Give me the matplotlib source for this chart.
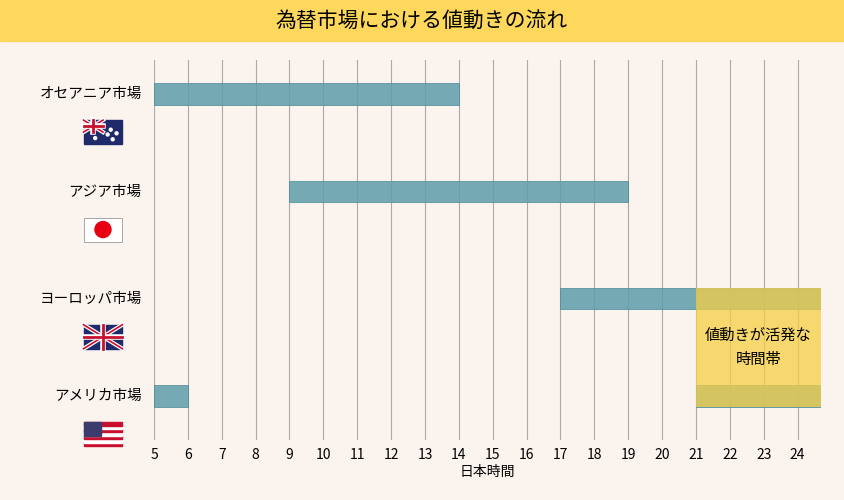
import numpy as np
import matplotlib.pyplot as plt
from matplotlib.patches import Rectangle, Ellipse

plt.rcParams["font.family"] = "Noto Sans CJK JP"

markets = ["オセアニア市場", "アジア市場", "ヨーロッパ市場", "アメリカ市場"]
# (start, end) hour segments per market
segments = [[(5, 14)], [(9, 19)], [(17, 24.7)], [(5, 6), (21, 24.7)]]
hours = list(range(5, 25))
active = (21, 24.7)

bg = "#FAF3EE"
fig = plt.figure(figsize=(8.44, 5.0), dpi=100, facecolor=bg)
# title band
fig.patches.append(Rectangle((0, 0.918), 1, 0.082, transform=fig.transFigure,
                             color="#FDD85D", zorder=0))
fig.text(0.5, 0.959, "為替市場における値動きの流れ", ha="center", va="center", fontsize=15)

ax = fig.add_axes([0.1825, 0.12, 0.7905, 0.76], facecolor=bg)
rows = [0, 1, 2, 3]
ypos = [3.1, 2.1, 1.0, 0.0]
bh = 0.22
for y, segs in zip(ypos, segments):
    for s, e in segs:
        ax.barh(y, e - s, left=s, height=bh, color="#5E9EAA", alpha=0.85,
                edgecolor="#4A8A96", linewidth=0.6, zorder=2)
ax.add_patch(Rectangle((active[0], -bh / 2), active[1] - active[0], 1.0 + bh,
                       color="#F5CF45", alpha=0.75, zorder=3, linewidth=0))
ax.text(sum(active) / 2, 0.5, "値動きが活発な\n時間帯", ha="center", va="center",
        fontsize=11, zorder=4, linespacing=1.5)

ax.set_xlim(5, 24.7)
ax.set_ylim(-0.45, 3.45)
ax.set_xticks(hours)
ax.tick_params(axis="x", length=0, labelsize=10, pad=6)
ax.set_yticks([])
ax.grid(axis="x", color="#AAAAAA", linewidth=0.8, zorder=0)
for s in ax.spines.values():
    s.set_visible(False)
ax.set_xlabel("日本時間", fontsize=10, labelpad=2)

# labels and simple flags
fx = 0.099
for name, y, i in zip(markets, ypos, rows):
    yd = ax.transData.transform((5, y))[1]
    yf = fig.transFigure.inverted().transform((0, yd))[1]
    fig.text(0.168, yf, name, ha="right", va="center", fontsize=10.5)
    fy = yf - 0.1
    w, h = 0.046, 0.048
    if i == 1:
        fig.patches.append(Rectangle((fx, fy), w, h, transform=fig.transFigure,
                                     facecolor="white", edgecolor="#999999", linewidth=0.6))
        fig.patches.append(Ellipse((fx + w / 2, fy + h / 2), 0.019, 0.032, transform=fig.transFigure,
                                   color="#E60012"))
    elif i == 3:
        for k in range(7):
            c = "#C8102E" if k % 2 == 0 else "white"
            fig.patches.append(Rectangle((fx, fy + k * h / 7), w, h / 7,
                                         transform=fig.transFigure, color=c))
        fig.patches.append(Rectangle((fx, fy + h * 3 / 7), w * 0.45, h * 4 / 7,
                                     transform=fig.transFigure, color="#3C3B6E"))
    else:
        fig.patches.append(Rectangle((fx, fy), w, h, transform=fig.transFigure,
                                     color="#1F2A6B"))
        x0, y0 = (fx, fy + h / 2) if i == 0 else (fx, fy)
        ww, hh = (w / 2, h / 2) if i == 0 else (w, h)
        for lw, col in [(3, "white"), (1.2, "#C8102E")]:
            fig.lines.append(plt.Line2D([x0, x0 + ww], [y0, y0 + hh], transform=fig.transFigure, color=col, lw=lw))
            fig.lines.append(plt.Line2D([x0, x0 + ww], [y0 + hh, y0], transform=fig.transFigure, color=col, lw=lw))
        for lw, col in [(4, "white"), (2, "#C8102E")]:
            fig.lines.append(plt.Line2D([x0 + ww / 2] * 2, [y0, y0 + hh], transform=fig.transFigure, color=col, lw=lw))
            fig.lines.append(plt.Line2D([x0, x0 + ww], [y0 + hh / 2] * 2, transform=fig.transFigure, color=col, lw=lw))
        if i == 0:
            for px, py in [(0.3, 0.25), (0.75, 0.2), (0.7, 0.6), (0.85, 0.45), (0.62, 0.4)]:
                fig.patches.append(Ellipse((fx + px * w, fy + py * h), 0.0035, 0.006,
                                           transform=fig.transFigure, color="white"))

fig.savefig("out.png", dpi=100, facecolor=bg)
